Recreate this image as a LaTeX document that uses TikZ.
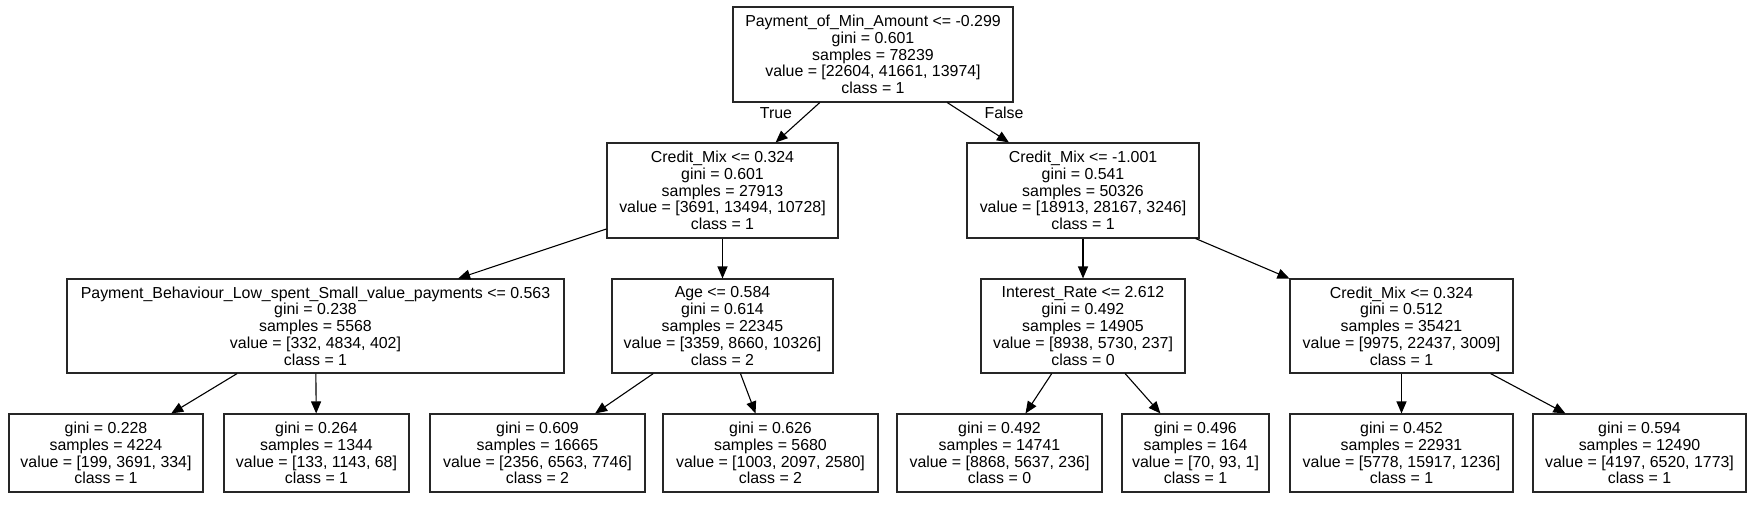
\documentclass[tikz,border=0pt]{standalone}
\usepackage{fontspec}
\setmainfont{Liberation Sans}
\usetikzlibrary{arrows.meta}
\begin{document}
\begin{tikzpicture}[x=1pt,y=-1pt,
  treebox/.style={draw=black!85, line width=1.1pt, align=center, inner sep=0pt,
    font={\fontsize{15.9}{16.8}\selectfont}},
  split/.style={treebox, minimum height=95pt},
  leaf/.style={treebox, minimum height=78pt},
  arr/.style={draw=black, line width=1.1pt, -{Triangle[length=12pt,width=10pt]}},
  elabel/.style={inner sep=0pt, font={\fontsize{15.9}{16.8}\selectfont}}]
\useasboundingbox[fill=white] (0,0) rectangle (1752,507);

\node[split, minimum width=280pt] (root) at (873,54.5)
  {Payment\_of\_Min\_Amount <= -0.299\\gini = 0.601\\samples = 78239\\value = [22604, 41661, 13974]\\class = 1};

\node[split, minimum width=231pt] (n1) at (722.5,190.5)
  {Credit\_Mix <= 0.324\\gini = 0.601\\samples = 27913\\value = [3691, 13494, 10728]\\class = 1};
\node[split, minimum width=232pt] (n8) at (1083,190.5)
  {Credit\_Mix <= -1.001\\gini = 0.541\\samples = 50326\\value = [18913, 28167, 3246]\\class = 1};

\node[split, minimum width=497pt, minimum height=94pt] (n2) at (315.5,326)
  {Payment\_Behaviour\_Low\_spent\_Small\_value\_payments <= 0.563\\gini = 0.238\\samples = 5568\\value = [332, 4834, 402]\\class = 1};
\node[split, minimum width=221pt, minimum height=94pt] (n5) at (722.5,326)
  {Age <= 0.584\\gini = 0.614\\samples = 22345\\value = [3359, 8660, 10326]\\class = 2};
\node[split, minimum width=204pt, minimum height=94pt] (n9) at (1083,326)
  {Interest\_Rate <= 2.612\\gini = 0.492\\samples = 14905\\value = [8938, 5730, 237]\\class = 0};
\node[split, minimum width=223pt, minimum height=94pt] (n12) at (1401.5,326)
  {Credit\_Mix <= 0.324\\gini = 0.512\\samples = 35421\\value = [9975, 22437, 3009]\\class = 1};

\node[leaf, minimum width=194pt] (l3) at (106,453)
  {gini = 0.228\\samples = 4224\\value = [199, 3691, 334]\\class = 1};
\node[leaf, minimum width=185pt] (l4) at (316.5,453)
  {gini = 0.264\\samples = 1344\\value = [133, 1143, 68]\\class = 1};
\node[leaf, minimum width=215pt] (l6) at (537.5,453)
  {gini = 0.609\\samples = 16665\\value = [2356, 6563, 7746]\\class = 2};
\node[leaf, minimum width=215pt] (l7) at (770.5,453)
  {gini = 0.626\\samples = 5680\\value = [1003, 2097, 2580]\\class = 2};
\node[leaf, minimum width=205pt] (l10) at (999.5,453)
  {gini = 0.492\\samples = 14741\\value = [8868, 5637, 236]\\class = 0};
\node[leaf, minimum width=147pt] (l11) at (1195.5,453)
  {gini = 0.496\\samples = 164\\value = [70, 93, 1]\\class = 1};
\node[leaf, minimum width=223pt] (l13) at (1401.5,453)
  {gini = 0.452\\samples = 22931\\value = [5778, 15917, 1236]\\class = 1};
\node[leaf, minimum width=213pt] (l14) at (1639.5,453)
  {gini = 0.594\\samples = 12490\\value = [4197, 6520, 1773]\\class = 1};

\draw[arr] (root) -- (n1);
\draw[arr] (root) -- (n8);
\draw[arr] (n1) -- (n2);
\draw[arr] (n1) -- (n5);
\draw[arr] (n8) -- (n9);
\draw[arr] (n8) -- (n12);
\draw[arr] (n2) -- (l3);
\draw[arr] (n2) -- (l4);
\draw[arr] (n5) -- (l6);
\draw[arr] (n5) -- (l7);
\draw[arr] (n9) -- (l10);
\draw[arr] (n9) -- (l11);
\draw[arr] (n12) -- (l13);
\draw[arr] (n12) -- (l14);

\node[elabel] (tlab) at (776,113) {True};
\node[elabel] (flab) at (1004,113) {False};
\end{tikzpicture}
\end{document}
